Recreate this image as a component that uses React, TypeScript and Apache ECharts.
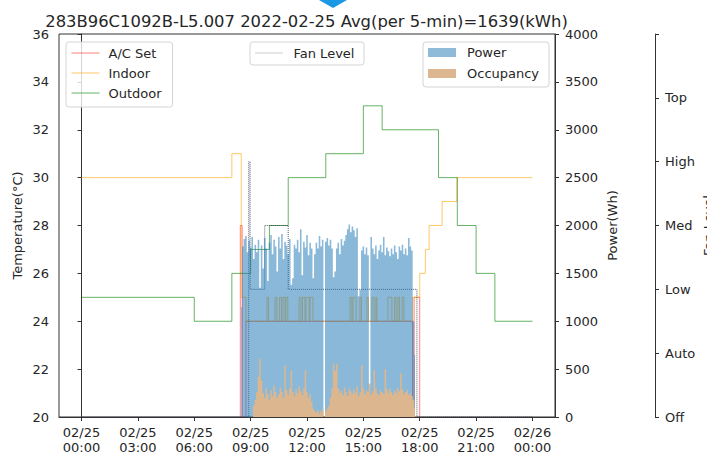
import React, { useEffect, useRef } from 'react';
import * as echarts from 'echarts';

// ---------- data ----------
const titleText = '283B96C1092B-L5.007 2022-02-25 Avg(per 5-min)=1639(kWh)';

const xTickHours = [0, 3, 6, 9, 12, 15, 18, 21, 24];
const xTickLabels = [
  '02/25\n00:00', '02/25\n03:00', '02/25\n06:00', '02/25\n09:00', '02/25\n12:00',
  '02/25\n15:00', '02/25\n18:00', '02/25\n21:00', '02/26\n00:00',
];
const fanLevelLabels = ['Off', 'Auto', 'Low', 'Med', 'High', 'Top', ''];

// step change points: [hour, value]
const acSet: [number, number][] = [
  [0, 0], [8.45, 28], [8.55, 0], [8.75, 24], [17.62, 0], [17.7, 25], [18.0, 0], [24, 0],
];

const indoor: [number, number][] = [
  [0, 30], [8.0, 31], [8.5, 25], [8.75, 24],
  [9.87, 25], [9.95, 24], [10.3, 25], [10.4, 24], [10.54, 25], [10.64, 24],
  [10.72, 25], [10.83, 24], [10.88, 25], [10.98, 24],
  [11.58, 25], [11.68, 24], [11.76, 25], [11.89, 24], [11.95, 25], [12.11, 24],
  [12.16, 25], [12.32, 24],
  [14.29, 25], [14.39, 24], [14.45, 25], [14.61, 24], [14.82, 25], [14.9, 24],
  [15.19, 25], [15.27, 24], [15.46, 25], [15.57, 24], [15.67, 25], [15.72, 24],
  [16.31, 25], [16.52, 24], [16.66, 25], [16.74, 24], [16.84, 25], [16.92, 24],
  [17.06, 25], [17.16, 24],
  [17.62, 25], [18.0, 26], [18.3, 27], [18.5, 28], [19.19, 29], [19.98, 30], [24, 30],
];

const outdoor: [number, number][] = [
  [0, 25], [6, 24], [8, 26], [9, 27], [10, 28], [11, 30], [13, 31], [15, 33],
  [16, 32], [19, 30], [20, 28], [21, 26], [22, 24], [24, 24],
];

const fanLevel: [number, number][] = [
  [0, 0], [8.9, 4], [8.97, 2], [9.75, 3], [11.0, 2], [17.85, 0], [24, 0],
];

// 5-minute samples starting at 08:30
const barStartHour = 8.5;
const barStepMinutes = 5;

const power = [
  1150, 1780, 1860, 1890, 1720, 1840, 1770, 1880, 1650, 1800, 1720, 1850,
  1350, 1790, 1550, 1870, 1760, 1420, 1820, 1900, 1700, 1850, 1780, 1520,
  1880, 1760, 1910, 1650, 1830, 1790, 1700, 1860, 1380, 1450, 1800, 1760,
  1850, 1720, 1960, 1480, 1830, 1770, 1900, 1690, 1820, 1760, 1450, 1700,
  1820, 1760, 1890, 1780, 1850, 0, 1830, 1870, 1790, 1850, 1760, 1460,
  1520, 1760, 1820, 1700, 1860, 1790, 1840, 1900, 1960, 2010, 1930, 1990,
  1950, 1880, 1970, 1260, 1330, 1740, 1780, 1700, 1770, 1690, 340, 1880,
  1760, 1700, 1790, 1650, 1740, 1800, 1720, 1880, 1690, 1770, 1730, 1680,
  1760, 1700, 1790, 1720, 1650, 1780, 1740, 1800, 1700, 1760, 1690, 1870,
  1780, 1740, 1000, 650,
];

const occupancy = [
  0, 0, 0, 0, 0, 0, 0, 0, 120, 180, 260, 420,
  610, 380, 250, 200, 300, 240, 180, 280, 220, 330, 260, 200,
  240, 310, 260, 200, 540, 280, 230, 300, 480, 260, 220, 290,
  250, 320, 270, 230, 300, 490, 260, 200, 240, 160, 90, 60,
  50, 70, 40, 60, 80, 0, 60, 90, 120, 200, 300, 560,
  480, 560, 300, 250, 280, 230, 310, 260, 220, 300, 270, 240,
  290, 250, 320, 220, 260, 540, 300, 240, 280, 260, 350, 230,
  270, 490, 300, 250, 230, 280, 260, 240, 500, 290, 250, 300,
  260, 230, 280, 250, 300, 270, 460, 290, 240, 260, 280, 230,
  250, 220, 180, 100,
];

// ---------- styling ----------
const FONT = 'DejaVu Sans';
const AXIS = '#333333';
const TEXT = '#262626';

const barTime = (i: number) => barStartHour + (i * barStepMinutes) / 60;

function buildOption() {
  const powerData = power.map((v, i) => [barTime(i), v]);
  const occData = occupancy.map((v, i) => [barTime(i), v]);

  const baseTxt = { fontFamily: FONT, fontSize: 13, color: TEXT };

  return {
    animation: false,
    backgroundColor: '#ffffff',
    textStyle: { fontFamily: FONT },
    title: {
      text: titleText,
      left: 306.5,
      top: 13,
      textAlign: 'center',
      padding: 0,
      textStyle: { fontFamily: FONT, fontSize: 16.4, fontWeight: 'normal', color: TEXT },
    },
    grid: {
      left: 59, right: 152, top: 34, bottom: 40,
      show: true, borderColor: AXIS, borderWidth: 1, backgroundColor: 'transparent',
      containLabel: false, outerBoundsMode: 'none',
    },
    graphic: [
      {
        type: 'polygon',
        shape: { points: [[319, 0], [347, 0], [333, 8]] },
        style: { fill: '#1a98e6' },
        z: 100,
      },
    ],
    legend: [
      {
        data: ['A/C Set', 'Indoor', 'Outdoor'],
        orient: 'vertical',
        left: 66, top: 42,
        padding: [4, 11, 7, 5],
        itemGap: 6, itemWidth: 28, itemHeight: 14,
        borderColor: '#d4d4d4', borderWidth: 1, borderRadius: 3,
        backgroundColor: 'rgba(255,255,255,0.8)',
        itemStyle: { opacity: 0 },
        lineStyle: { width: 1 },
        textStyle: { ...baseTxt, lineHeight: 14, padding: [0, 0, 0, 4] },
        selectedMode: false,
      },
      {
        data: ['Fan Level'],
        orient: 'vertical',
        left: 250, top: 42,
        padding: [4, 9.6, 5, 5],
        itemGap: 6, itemWidth: 28, itemHeight: 14,
        borderColor: '#d4d4d4', borderWidth: 1, borderRadius: 3,
        backgroundColor: 'rgba(255,255,255,0.8)',
        itemStyle: { opacity: 0 },
        lineStyle: { width: 1, color: '#9a9a9a', opacity: 1 },
        textStyle: { ...baseTxt, lineHeight: 14, padding: [0, 0, 0, 5] },
        selectedMode: false,
      },
      {
        data: [
          { name: 'Power', icon: 'rect', itemStyle: { color: '#8fbbd9', opacity: 1 } },
          { name: 'Occupancy', icon: 'rect', itemStyle: { color: '#dcb68e', opacity: 1 } },
        ],
        orient: 'vertical',
        left: 423, top: 42,
        padding: [3.5, 10, 6.5, 5],
        itemGap: 7, itemWidth: 28, itemHeight: 9,
        icon: 'rect',
        borderColor: '#d4d4d4', borderWidth: 1, borderRadius: 3,
        backgroundColor: 'rgba(255,255,255,0.8)',
        textStyle: { ...baseTxt, lineHeight: 14, padding: [0, 0, 0, 6] },
        selectedMode: false,
      },
    ],
    xAxis: {
      type: 'value',
      min: -1.2, max: 25.2,
      axisLine: { show: true, lineStyle: { color: AXIS, width: 1 } },
      axisTick: { show: true, customValues: xTickHours, length: 4, lineStyle: { color: AXIS } },
      axisLabel: {
        show: true,
        customValues: xTickHours,
        formatter: (v: number) => {
          const k = xTickHours.indexOf(Math.round(v));
          return k >= 0 ? xTickLabels[k] : '';
        },
        margin: 8, lineHeight: 15, ...baseTxt,
      },
      splitLine: { show: false },
    },
    yAxis: [
      {
        type: 'value', min: 20, max: 36, interval: 2, position: 'left',
        name: 'Temperature(°C)', nameLocation: 'middle', nameGap: 35, nameMoveOverlap: false,
        nameTextStyle: { ...baseTxt },
        axisLine: { show: true, lineStyle: { color: AXIS, width: 1 } },
        axisTick: { show: true, length: 4, lineStyle: { color: AXIS } },
        axisLabel: { margin: 10, ...baseTxt },
        splitLine: { show: false },
      },
      {
        type: 'value', min: 0, max: 4000, interval: 500, position: 'right',
        name: 'Power(Wh)', nameLocation: 'middle', nameGap: 51, nameMoveOverlap: false,
        nameTextStyle: { ...baseTxt },
        axisLine: { show: true, lineStyle: { color: AXIS, width: 1 } },
        axisTick: { show: true, length: 4, lineStyle: { color: AXIS } },
        axisLabel: { margin: 10, ...baseTxt, formatter: (v: number) => String(v) },
        splitLine: { show: false },
      },
      {
        type: 'value', min: 0, max: 6, interval: 1, position: 'right', offset: 100,
        name: 'Fan Level', nameLocation: 'middle', nameGap: 47, nameMoveOverlap: false,
        nameTextStyle: { ...baseTxt },
        axisLine: { show: true, lineStyle: { color: AXIS, width: 1 } },
        axisTick: { show: true, length: 4, lineStyle: { color: AXIS } },
        axisLabel: {
          margin: 10, ...baseTxt,
          formatter: (v: number) => fanLevelLabels[Math.round(v)] ?? '',
        },
        splitLine: { show: false },
      },
    ],
    series: [
      {
        name: 'A/C Set', type: 'line', step: 'end', data: acSet, yAxisIndex: 0,
        symbol: 'none', lineStyle: { color: '#ff0000', width: 1, opacity: 0.5 },
        itemStyle: { color: '#ff0000' }, z: 2,
      },
      {
        name: 'Indoor', type: 'line', step: 'end', data: indoor, yAxisIndex: 0,
        symbol: 'none', lineStyle: { color: '#ffa500', width: 1, opacity: 0.6 },
        itemStyle: { color: '#ffa500' }, z: 2,
      },
      {
        name: 'Outdoor', type: 'line', step: 'end', data: outdoor, yAxisIndex: 0,
        symbol: 'none', lineStyle: { color: '#008000', width: 1, opacity: 0.6 },
        itemStyle: { color: '#008000' }, z: 2,
      },
      {
        name: 'Fan Level', type: 'line', step: 'end', data: fanLevel, yAxisIndex: 2,
        symbol: 'none', lineStyle: { color: '#1f2a44', width: 1, opacity: 0.75, type: 'dotted' },
        itemStyle: { color: '#1f2a44' }, z: 2,
      },
      {
        name: 'Power', type: 'line', step: 'middle', data: powerData, yAxisIndex: 1,
        symbol: 'none', lineStyle: { width: 0, opacity: 0 },
        areaStyle: { color: '#1f77b4', opacity: 0.52 },
        itemStyle: { color: '#8fbbd9' }, z: 3,
      },
      {
        name: 'Occupancy', type: 'line', step: 'middle', data: occData, yAxisIndex: 1,
        symbol: 'none', lineStyle: { width: 0, opacity: 0 },
        areaStyle: { color: '#dcb68e', opacity: 1 },
        itemStyle: { color: '#dcb68e' }, z: 3,
      },
    ],
  };
}

export default function App() {
  const ref = useRef<HTMLDivElement>(null);
  useEffect(() => {
    if (!ref.current) return;
    const chart = echarts.init(ref.current, null, { renderer: 'svg' });
    chart.setOption(buildOption() as any);
    return () => {
      chart.dispose();
    };
  }, []);
  return (
    <div
      ref={ref}
      style={{ position: 'fixed', left: 0, top: 0, width: 707, height: 457, background: '#fff' }}
    />
  );
}
